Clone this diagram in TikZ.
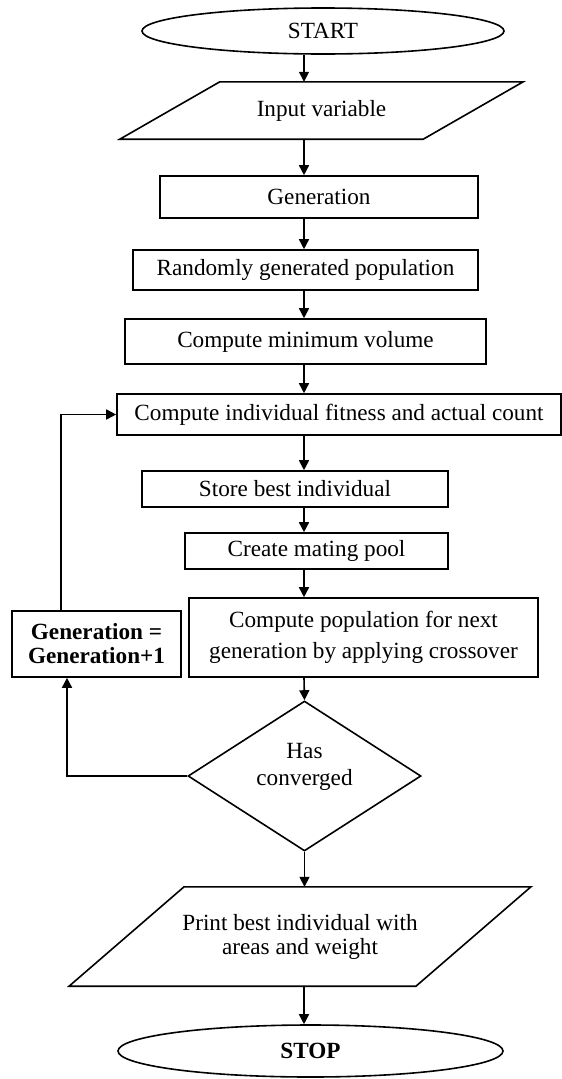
\documentclass[tikz,border=0pt]{standalone}
\usepackage{fontspec}
\setmainfont{Liberation Serif}
\usetikzlibrary{arrows.meta,shapes.geometric}
\begin{document}
\begin{tikzpicture}[x=1pt,y=-1pt,
  every node/.style={font=\fontsize{23.2}{27}\selectfont, inner sep=0pt},
  line/.style={line width=1.6pt, draw=black},
  box/.style={rectangle, line, align=center},
  term/.style={ellipse, line},
  decision/.style={diamond, line},
  arr/.style={line width=1.6pt, draw=black, -{Triangle[length=10pt,width=10pt]}}
]
\useasboundingbox (0,0) rectangle (562,1079);

% terminals and boxes
\node[term, minimum width=362pt, minimum height=46pt] (start) at (323,31) {START};

\node[minimum width=303pt, minimum height=57pt] (input) at (321.5,110.5) {Input variable};
\draw[line] ([xshift=-50pt]input.south west) -- ([xshift=-50pt]input.south east)
  -- ([xshift=50pt]input.north east) -- ([xshift=50pt]input.north west) -- cycle;

\node[box, minimum width=318pt, minimum height=42pt] (gen) at (319,197) {Generation};
\node[box, minimum width=345pt, minimum height=40pt] (rand) at (305.5,270) {Randomly generated population};
\node[box, minimum width=361pt, minimum height=45pt] (cmin) at (305.5,341.5) {Compute minimum volume};
\node[box, minimum width=444pt, minimum height=41pt] (indiv) at (339,414.5) {Compute individual fitness and actual count};
\node[box, minimum width=306pt, minimum height=36pt] (store) at (295,489) {Store best individual};
\node[box, minimum width=263pt, minimum height=36pt] (mate) at (316.5,551) {Create mating pool};
\node[box, minimum width=349pt, minimum height=79pt, font=\fontsize{23.2}{31}\selectfont] (cpop) at (363.5,637.5)
  {Compute population for next\\generation by applying crossover};
\node[box, minimum width=169pt, minimum height=66pt, font=\fontsize{23.2}{24}\selectfont\bfseries] (gen2) at (96.5,644)
  {Generation =\\Generation+1};

\node[decision, minimum width=233pt, minimum height=150pt] (conv) at (304.5,776) {};
\node[align=center, font=\fontsize{23.2}{27}\selectfont] (convtxt) at (304.5,766.5) {Has\\converged};

\node[minimum width=346.5pt, minimum height=99pt, align=center, font=\fontsize{23.2}{24}\selectfont] (print) at (300,936.5)
  {Print best individual with\\areas and weight};
\draw[line] ([xshift=-57.5pt]print.south west) -- ([xshift=-57.5pt]print.south east)
  -- ([xshift=57.5pt]print.north east) -- ([xshift=57.5pt]print.north west) -- cycle;

\node[term, minimum width=385pt, minimum height=52pt, font=\fontsize{23.2}{27}\selectfont\bfseries] (stop) at (310.5,1051) {STOP};

% connectors
\coordinate (ax) at (304,0);
\coordinate (lx1) at (67,0);
\coordinate (lx2) at (61,0);
\draw[arr] (start.south -| ax) -- (input.north -| ax);
\draw[arr] (input.south -| ax) -- (gen.north -| ax);
\draw[arr] (gen.south -| ax) -- (rand.north -| ax);
\draw[arr] (rand.south -| ax) -- (cmin.north -| ax);
\draw[arr] (cmin.south -| ax) -- (indiv.north -| ax);
\draw[arr] (indiv.south -| ax) -- (store.north -| ax);
\draw[arr] (store.south -| ax) -- (mate.north -| ax);
\draw[arr] (mate.south -| ax) -- (cpop.north -| ax);
\draw[arr] (cpop.south -| ax) -- (conv.north);
\draw[arr] (conv.south) -- (print.north -| conv.south);
\draw[arr] (print.south -| ax) -- (stop.north -| ax);
\draw[arr] (conv.west) -| (gen2.south -| lx1);
\draw[arr] (gen2.north -| lx2) |- (indiv.west);
\end{tikzpicture}
\end{document}
